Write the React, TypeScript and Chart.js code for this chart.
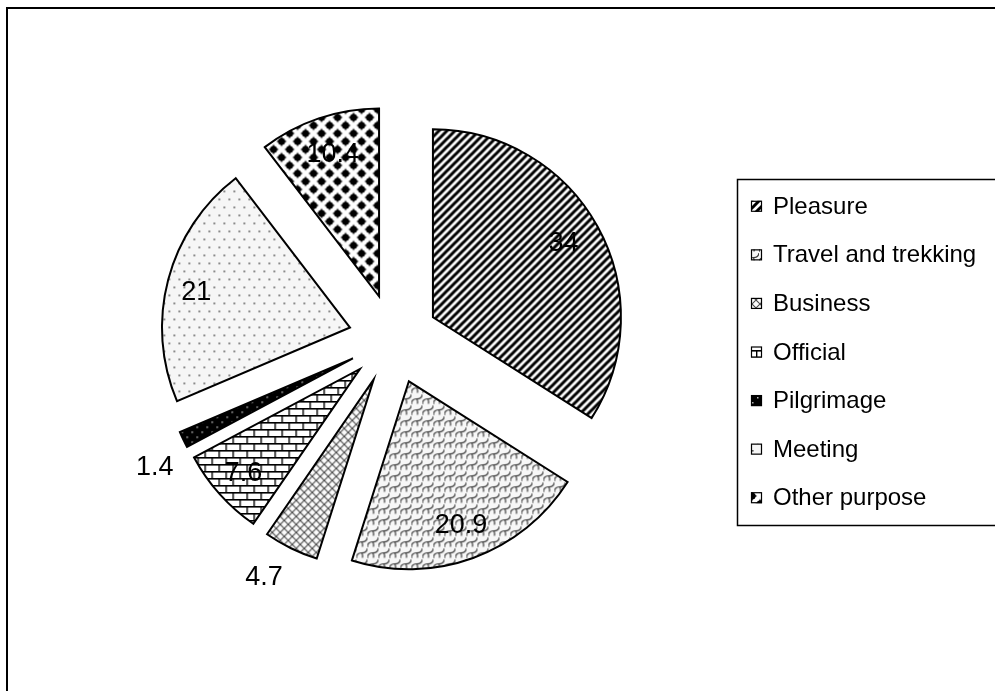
import React, { useEffect, useRef } from "react";
import { Chart, registerables } from "chart.js";

Chart.register(...registerables);

// ---- data ----
const categories = [
  "Pleasure",
  "Travel and trekking",
  "Business",
  "Official",
  "Pilgrimage",
  "Meeting",
  "Other purpose",
];
const shares = [34, 20.9, 4.7, 7.6, 1.4, 21, 10.4];
const valueLabels = ["34", "20.9", "4.7", "7.6", "1.4", "21", "10.4"];

// ---- label placement (relative to each exploded slice) ----
const LABEL_RADIUS = [0.8, 0.81, 1.2, 0.83, 1.2, 0.84, 0.8];
const LABEL_SHIFT_DEG = [-1, 0, 3, 0, -3, -1.5, 0.8];

const EXPLODE = 45;
const FONT = '"Liberation Sans", Arial, sans-serif';

type Draw = (g: CanvasRenderingContext2D, w: number, h: number) => void;
function makeTile(w: number, h: number, draw: Draw) {
  const c = document.createElement("canvas");
  c.width = w;
  c.height = h;
  const g = c.getContext("2d")!;
  draw(g, w, h);
  return c;
}

function makePatterns(ctx: CanvasRenderingContext2D) {
  const tiles = [
    // Pleasure: "/" stripes
    makeTile(8, 8, (g) => {
      g.fillStyle = "#fff";
      g.fillRect(0, 0, 8, 8);
      g.strokeStyle = "#000";
      g.lineWidth = 3;
      g.beginPath();
      for (let k = 0; k <= 2; k++) {
        g.moveTo(8 * k + 2, -2);
        g.lineTo(8 * k - 10, 10);
      }
      g.stroke();
    }),
    // Travel and trekking: shingle waves
    makeTile(11, 11, (g) => {
      g.fillStyle = "#f7f7f7";
      g.fillRect(0, 0, 11, 11);
      g.strokeStyle = "#3c3c3c";
      g.lineWidth = 1.2;
      g.beginPath();
      g.moveTo(0, 10);
      g.quadraticCurveTo(0, 4.5, 5.5, 4.5);
      g.quadraticCurveTo(11, 4.5, 11, -1);
      g.moveTo(5.5, 4.5);
      g.quadraticCurveTo(6.5, 7, 6, 9.5);
      g.moveTo(-5.5, 15.5);
      g.quadraticCurveTo(-4.5, 18, -5, 20.5);
      g.moveTo(5.5, -6.5);
      g.quadraticCurveTo(6.5, -4, 6, -1.5);
      g.stroke();
    }),
    // Business: diagonal cross-hatch
    makeTile(8, 8, (g) => {
      g.fillStyle = "#fbfbfb";
      g.fillRect(0, 0, 8, 8);
      g.strokeStyle = "#4a4a4a";
      g.lineWidth = 1.1;
      g.beginPath();
      g.moveTo(-1, 9);
      g.lineTo(9, -1);
      g.moveTo(-1, -1);
      g.lineTo(9, 9);
      g.stroke();
    }),
    // Official: bricks
    makeTile(14, 14, (g) => {
      g.fillStyle = "#fff";
      g.fillRect(0, 0, 14, 14);
      g.fillStyle = "#000";
      g.fillRect(0, 0, 14, 1.6);
      g.fillRect(0, 7, 14, 1.6);
      g.fillRect(0, 0, 1.4, 7);
      g.fillRect(7, 7, 1.4, 7);
    }),
    // Pilgrimage: black with light dots
    makeTile(10, 10, (g) => {
      g.fillStyle = "#000";
      g.fillRect(0, 0, 10, 10);
      g.fillStyle = "#bbb";
      g.fillRect(2, 2, 1.5, 1.5);
      g.fillRect(7, 7, 1.5, 1.5);
    }),
    // Meeting: sparse dots
    makeTile(10, 16, (g) => {
      g.fillStyle = "#f6f6f6";
      g.fillRect(0, 0, 10, 16);
      g.fillStyle = "#555";
      g.fillRect(2, 2, 1.6, 1.6);
      g.fillRect(7, 10, 1.6, 1.6);
    }),
    // Other purpose: black diamonds
    makeTile(16, 16, (g) => {
      g.fillStyle = "#fff";
      g.fillRect(0, 0, 16, 16);
      g.fillStyle = "#000";
      const r = 5.4;
      const centers = [
        [8, 8],
        [0, 0],
        [16, 0],
        [0, 16],
        [16, 16],
      ];
      for (const [cx, cy] of centers) {
        g.beginPath();
        g.moveTo(cx, cy - r);
        g.quadraticCurveTo(cx + 1, cy - 1, cx + r, cy);
        g.quadraticCurveTo(cx + 1, cy + 1, cx, cy + r);
        g.quadraticCurveTo(cx - 1, cy + 1, cx - r, cy);
        g.quadraticCurveTo(cx - 1, cy - 1, cx, cy - r);
        g.closePath();
        g.fill();
        g.beginPath();
        g.arc(cx, cy, 3.6, 0, Math.PI * 2);
        g.fill();
      }
    }),
  ];
  return tiles.map((t) => ctx.createPattern(t, "repeat")!);
}

const framePlugin = {
  id: "frame",
  beforeDraw(chart: any) {
    const ctx = chart.ctx as CanvasRenderingContext2D;
    ctx.save();
    ctx.fillStyle = "#fff";
    ctx.fillRect(0, 0, chart.width, chart.height);
    ctx.strokeStyle = "#000";
    ctx.lineWidth = 2;
    ctx.strokeRect(7, 8, 1200, 1000);
    ctx.restore();
  },
};

const explodePlugin = {
  id: "explode",
  beforeDatasetDraw(chart: any, args: any) {
    const ctx = chart.ctx as CanvasRenderingContext2D;
    args.meta.data.forEach((arc: any) => {
      const mid = (arc.startAngle + arc.endAngle) / 2;
      ctx.save();
      ctx.translate(Math.cos(mid) * EXPLODE, Math.sin(mid) * EXPLODE);
      arc.draw(ctx);
      ctx.restore();
    });
    return false;
  },
};

const labelPlugin = {
  id: "valueLabels",
  afterDatasetsDraw(chart: any) {
    const ctx = chart.ctx as CanvasRenderingContext2D;
    const meta = chart.getDatasetMeta(0);
    ctx.save();
    ctx.font = `27px ${FONT}`;
    ctx.fillStyle = "#000";
    ctx.textAlign = "center";
    ctx.textBaseline = "middle";
    meta.data.forEach((arc: any, i: number) => {
      const mid = (arc.startAngle + arc.endAngle) / 2;
      const ox = arc.x + Math.cos(mid) * EXPLODE;
      const oy = arc.y + Math.sin(mid) * EXPLODE;
      const a = mid + (LABEL_SHIFT_DEG[i] * Math.PI) / 180;
      const r = arc.outerRadius * LABEL_RADIUS[i];
      ctx.fillText(valueLabels[i], ox + Math.cos(a) * r, oy + Math.sin(a) * r + 1);
    });
    ctx.restore();
  },
};

const legendPlugin = {
  id: "boxLegend",
  afterDraw(chart: any) {
    const ctx = chart.ctx as CanvasRenderingContext2D;
    const bg = chart.data.datasets[0].backgroundColor as CanvasPattern[];
    const left = 737;
    const top = 179;
    const bottom = 525;
    const step = (bottom - top - 6) / categories.length;
    ctx.save();
    ctx.strokeStyle = "#000";
    ctx.lineWidth = 1.5;
    ctx.strokeRect(left + 0.5, top + 0.5, 600, bottom - top);
    ctx.font = `24px ${FONT}`;
    ctx.textBaseline = "middle";
    ctx.textAlign = "left";
    categories.forEach((name, i) => {
      const cy = top + 3 + step * (i + 0.5);
      ctx.fillStyle = bg[i];
      ctx.fillRect(751, cy - 5.5, 11, 11);
      ctx.lineWidth = 1.2;
      ctx.strokeStyle = "#000";
      ctx.strokeRect(751.5, cy - 5, 10, 10);
      ctx.fillStyle = "#000";
      ctx.fillText(name, 773, cy + 1);
    });
    ctx.restore();
  },
};

export default function App() {
  const ref = useRef<HTMLCanvasElement>(null);

  useEffect(() => {
    const canvas = ref.current!;
    const ctx = canvas.getContext("2d")!;
    const patterns = makePatterns(ctx);
    const chart = new Chart(canvas, {
      type: "pie",
      data: {
        labels: categories,
        datasets: [
          {
            data: shares,
            backgroundColor: patterns as any,
            borderColor: "#000",
            borderWidth: 2,
            borderJoinStyle: "miter",
          } as any,
        ],
      },
      options: {
        responsive: false,
        animation: false,
        events: [],
        radius: 188,
        layout: { padding: { left: 0, right: 208, top: 0, bottom: 13 } },
        plugins: {
          legend: { display: false },
          tooltip: { enabled: false },
        },
      } as any,
      plugins: [framePlugin, explodePlugin, labelPlugin, legendPlugin],
    });
    return () => chart.destroy();
  }, []);

  return (
    <div
      style={{
        position: "fixed",
        left: 0,
        top: 0,
        width: 995,
        height: 691,
        overflow: "hidden",
        background: "#fff",
      }}
    >
      <canvas ref={ref} width={995} height={691} style={{ display: "block" }} />
    </div>
  );
}
